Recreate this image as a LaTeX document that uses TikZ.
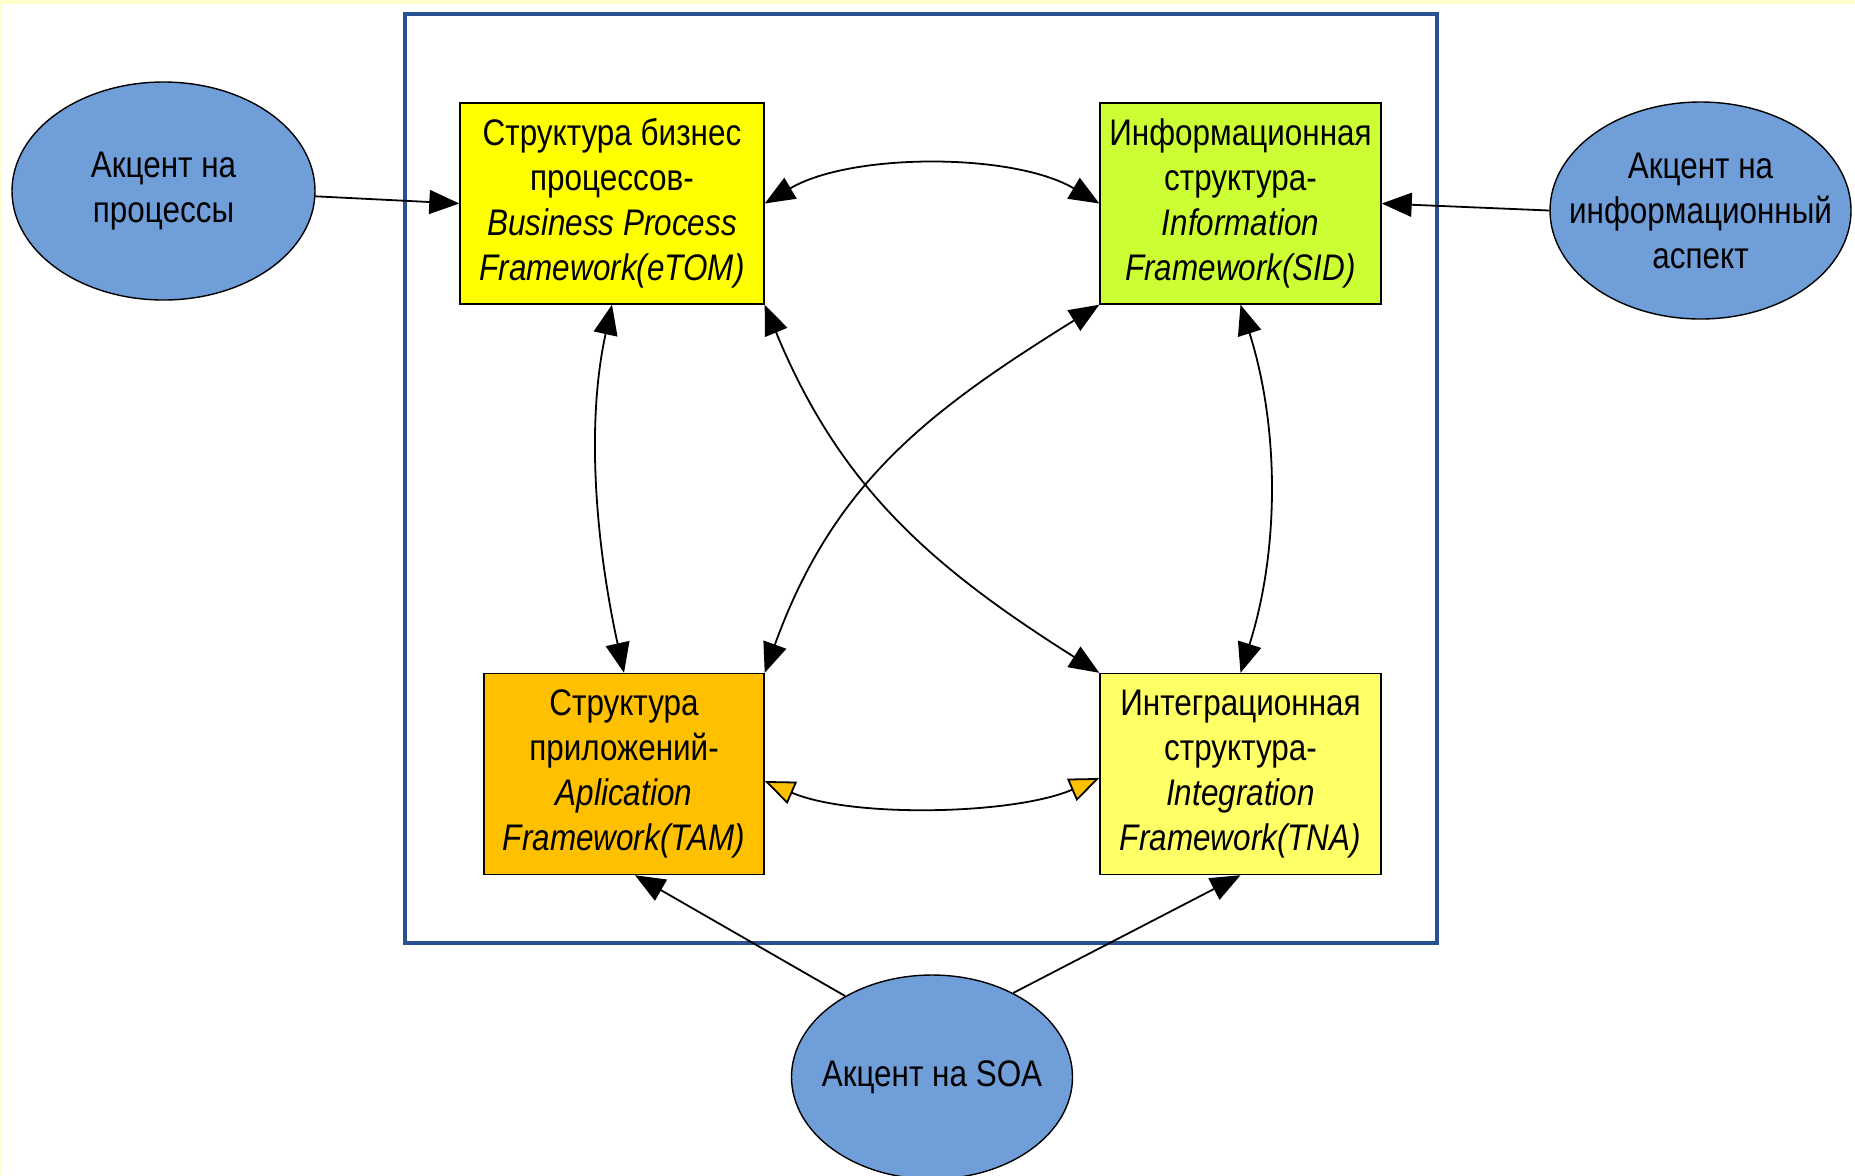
\documentclass[tikz,border=0pt]{standalone}
\usepackage{fontspec}
\setmainfont{Liberation Sans}[FakeStretch=0.85]
\usetikzlibrary{arrows.meta,shapes.geometric}
\definecolor{accentblue}{RGB}{112,158,216}
\definecolor{framecol}{RGB}{40,82,145}
\definecolor{etomcol}{RGB}{255,255,0}
\definecolor{sidcol}{RGB}{204,255,51}
\definecolor{tamcol}{RGB}{255,192,0}
\definecolor{tnacol}{RGB}{255,255,102}
\definecolor{edgecol}{RGB}{255,255,204}

\begin{document}
\begin{tikzpicture}[x=0.5pt,y=-0.5pt,
  lbl/.style={font=\fontsize{18.5pt}{22.5pt}\selectfont, align=center, text=black},
  fwbox/.style={lbl, draw=black, line width=0.7pt, rectangle, inner sep=0pt, minimum height=100.5pt},
  accent/.style={lbl, ellipse, draw=black, line width=0.7pt, fill=accentblue, inner ysep=0pt, inner xsep=-16pt},
  link/.style={line width=0.9pt, draw=black},
  tip/.style={-{Triangle[length=15pt,width=12pt]}},
  both/.style={{Triangle[length=15pt,width=12pt]}-{Triangle[length=15pt,width=12pt]}},
  bothorange/.style={{Triangle[length=15pt,width=12pt,fill=tamcol]}-{Triangle[length=15pt,width=12pt,fill=tamcol]}},
]
% page background with a thin pale edge
\fill[white] (0,0) rectangle (1855,1175);
\fill[edgecol] (0,0) rectangle (1855,4);
\fill[edgecol] (0,0) rectangle (2,1175);
\useasboundingbox (0,0) rectangle (1855,1175);

% enclosing frame of the four frameworks
\draw[framecol, line width=2.2pt] (405,14) rectangle (1437,943);

% frameworks
\node[fwbox, fill=etomcol, minimum width=152pt] (bpf) at (612,203.5)
  {Структура бизнес\\процессов-\\\textit{Business Process}\\\textit{Framework(eTOM)}};
\node[fwbox, fill=sidcol, minimum width=140.5pt] (sid) at (1240.5,203.5)
  {Информационная\\структура-\\\textit{Information}\\\textit{Framework(SID)}};
\node[fwbox, fill=tamcol, minimum width=140pt] (tam) at (624,774)
  {Структура\\приложений-\\\textit{Aplication}\\\textit{Framework(TAM)}};
\node[fwbox, fill=tnacol, minimum width=140.5pt] (tna) at (1240.5,774)
  {Интеграционная\\структура-\\\textit{Integration}\\\textit{Framework(TNA)}};

% focus ellipses
\node[accent, minimum width=151.5pt, minimum height=109pt] (lp) at (163.5,191)
  {Акцент на\\процессы};
\node[accent, minimum width=150.5pt, minimum height=108.5pt] (rp) at (1700.5,210.5)
  {Акцент на\\информационный\\аспект};
\node[accent, minimum width=140.5pt, minimum height=102pt] (soa) at (932,1077)
  {Акцент на SOA};

% connectors
\draw[link,tip] (lp.-2) -- (bpf.west);
\draw[link,tip] (rp.west) -- (sid.east);
\draw[link,both] (bpf.east) .. controls +(86,-51) and +(-86,-51) .. (sid.west);
\draw[link,bothorange] ([yshift=-3.5pt]tam.east) .. controls +(86,37) and +(-86,37) .. ([yshift=-2pt]tna.west);
\draw[link,both] (bpf.south) .. controls +(-27,123) and +(-27,-123) .. (tam.north);
\draw[link,both] (sid.south) .. controls +(39,123) and +(39,-123) .. (tna.north);
\draw[link,both] (bpf.south east) .. controls +(75,182) and +(-168,-106) .. (tna.north west);
\draw[link,both] (sid.south west) .. controls +(-170,106) and +(69,-191) .. (tam.north east);
\draw[link,tip] (soa.137) -- ([xshift=5.5pt]tam.south);
\draw[link,tip] (soa.46) -- (tna.south);
\end{tikzpicture}
\end{document}
